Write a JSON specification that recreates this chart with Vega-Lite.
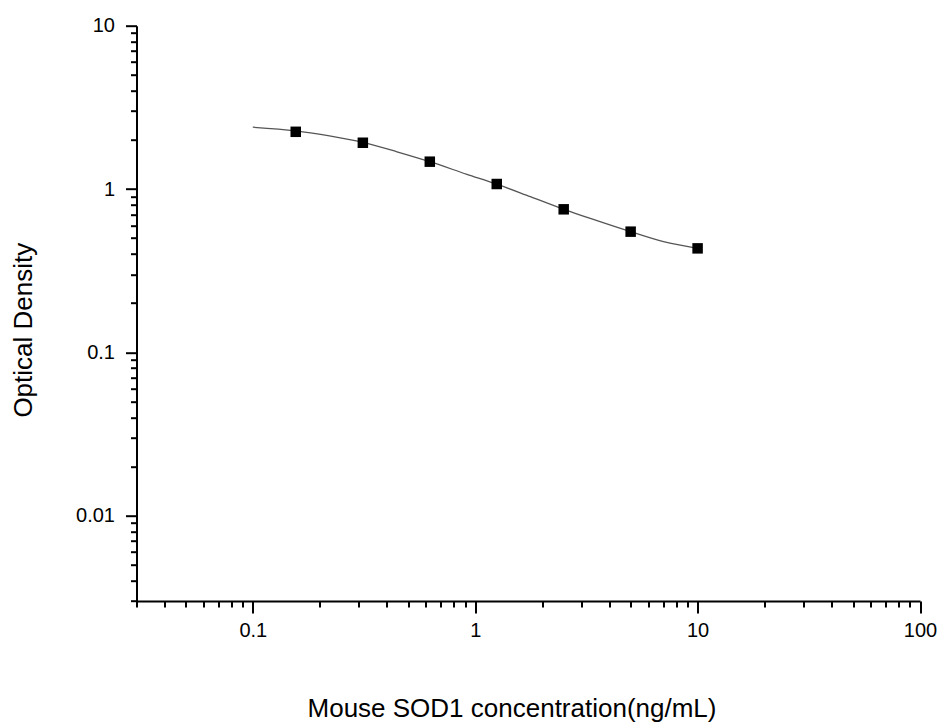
{
  "$schema": "https://vega.github.io/schema/vega-lite/v6.json",
  "autosize": {"type": "none"},
  "width": 783.5,
  "height": 575.3,
  "padding": {"left": 136.5, "top": 25.7, "right": 21, "bottom": 121},
  "background": "white",
  "config": {
    "view": {"stroke": null},
    "font": "Liberation Sans"
  },
  "datasets": {
    "points": [
      {"conc": 0.156, "od": 2.24},
      {"conc": 0.3125, "od": 1.92},
      {"conc": 0.625, "od": 1.47},
      {"conc": 1.25, "od": 1.073},
      {"conc": 2.5, "od": 0.751},
      {"conc": 5, "od": 0.548},
      {"conc": 10, "od": 0.433}
    ],
    "curve": [
      {"conc": 0.1, "od": 2.39},
      {"conc": 0.156, "od": 2.27},
      {"conc": 0.218, "od": 2.12},
      {"conc": 0.3125, "od": 1.93},
      {"conc": 0.445, "od": 1.69},
      {"conc": 0.625, "od": 1.47},
      {"conc": 0.918, "od": 1.23},
      {"conc": 1.25, "od": 1.07},
      {"conc": 1.77, "od": 0.897},
      {"conc": 2.5, "od": 0.751},
      {"conc": 3.53, "od": 0.64},
      {"conc": 5, "od": 0.548},
      {"conc": 7.03, "od": 0.476},
      {"conc": 10, "od": 0.433}
    ]
  },
  "encoding": {
    "x": {
      "field": "conc",
      "type": "quantitative",
      "scale": {"type": "log", "domain": [0.03, 100], "nice": false},
      "axis": {
        "title": "Mouse SOD1 concentration(ng/mL)",
        "titleX": 375,
        "titleY": 115,
        "titleBaseline": "alphabetic",
        "titleAlign": "center",
        "titleFont": "Liberation Sans",
        "titleFontSize": 26,
        "titleFontWeight": "normal",
        "titleColor": "black",
        "labelFont": "Liberation Sans",
        "labelFontSize": 20,
        "labelColor": "black",
        "labelPadding": 7,
        "labelOverlap": false,
        "labelBound": false,
        "labelFlush": false,
        "format": "~g",
        "grid": false,
        "domainColor": "black",
        "domainWidth": 2,
        "tickColor": "black",
        "tickWidth": 2,
        "values": [0.03,0.04,0.05,0.06,0.07,0.08,0.09,0.1,0.2,0.3,0.4,0.5,0.6,0.7,0.8,0.9,1,2,3,4,5,6,7,8,9,10,20,30,40,50,60,70,80,90,100],
        "labelExpr": "indexof([0.1,1,10,100], datum.value) >= 0 ? datum.label : ''",
        "tickSize": {"condition": {"test": "indexof([0.1,1,10,100], datum.value) >= 0", "value": 12}, "value": 6}
      }
    },
    "y": {
      "field": "od",
      "type": "quantitative",
      "scale": {"type": "log", "domain": [0.003, 10], "nice": false},
      "axis": {
        "title": "Optical Density",
        "titleX": -105,
        "titleY": 304,
        "titleBaseline": "alphabetic",
        "titleAngle": -90,
        "titleAlign": "center",
        "titleFont": "Liberation Sans",
        "titleFontSize": 26,
        "titleFontWeight": "normal",
        "titleColor": "black",
        "labelFont": "Liberation Sans",
        "labelFontSize": 20,
        "labelColor": "black",
        "labelPadding": 11,
        "labelOverlap": false,
        "labelBound": false,
        "labelFlush": false,
        "format": "~g",
        "grid": false,
        "domainColor": "black",
        "domainWidth": 2,
        "tickColor": "black",
        "tickWidth": 2,
        "values": [0.003,0.004,0.005,0.006,0.007,0.008,0.009,0.01,0.02,0.03,0.04,0.05,0.06,0.07,0.08,0.09,0.1,0.2,0.3,0.4,0.5,0.6,0.7,0.8,0.9,1,2,3,4,5,6,7,8,9,10],
        "labelExpr": "indexof([0.01,0.1,1,10], datum.value) >= 0 ? datum.label : ''",
        "tickSize": {"condition": {"test": "indexof([0.01,0.1,1,10], datum.value) >= 0", "value": 11}, "value": 6}
      }
    }
  },
  "layer": [
    {
      "data": {"name": "curve"},
      "mark": {"type": "line", "interpolate": "monotone", "color": "#555555", "strokeWidth": 1.3},
      "encoding": {}
    },
    {
      "data": {"name": "points"},
      "mark": {"type": "point", "shape": "square", "filled": true, "color": "black", "opacity": 1, "size": 110},
      "encoding": {}
    }
  ]
}
